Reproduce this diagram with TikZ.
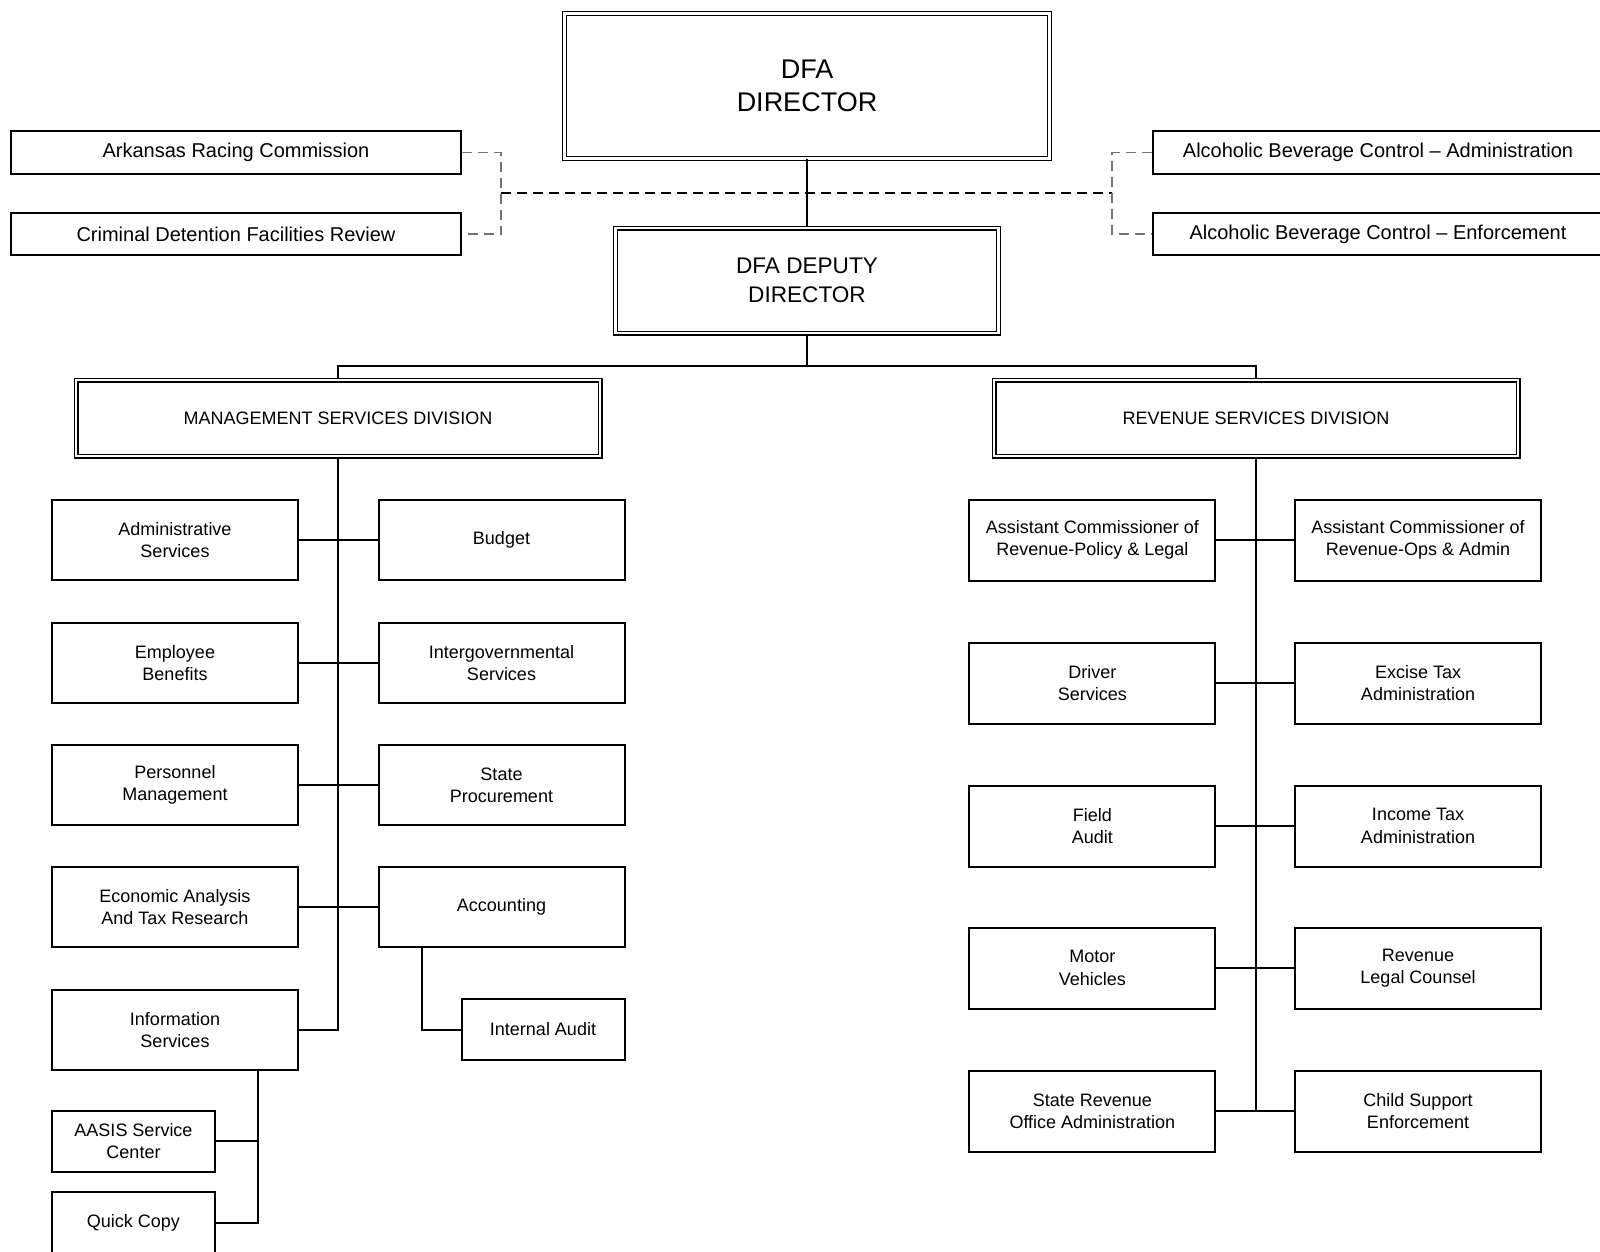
\documentclass[tikz,border=0pt]{standalone}
\usepackage{fontspec}
\setmainfont{Liberation Sans}
\usepackage{tikz}

\begin{document}
\begin{tikzpicture}[x=0.5pt,y=0.5pt,yscale=-1,xscale=1,
    unit/.style={draw,line width=1pt,fill=white,inner sep=1pt,align=center,font=\fontsize{9}{11.2}\selectfont,minimum width=123pt,minimum height=40pt},
    revunit/.style={unit,minimum height=40.5pt},
    smallunit/.style={unit,minimum width=81.5pt,minimum height=30.5pt},
    sidebox/.style={draw,line width=1pt,fill=white,minimum width=225pt,minimum height=21pt,inner sep=1pt,font=\fontsize{10}{12}\selectfont},
    headbox/.style={draw,line width=0.7pt,double,double distance=1.1pt,fill=white,align=center},
    divbox/.style={headbox,minimum width=262pt,minimum height=38pt,font=\fontsize{9}{11}\selectfont},
    link/.style={line width=1pt},
    mainlink/.style={line width=1pt,dash pattern={on 5pt off 3pt}},
    sidelink/.style={draw=black!55,line width=0.9pt,dash pattern={on 5pt off 3pt}}]
    % page size
    \fill[white] (0,0) rectangle (1600,1252);
    \useasboundingbox (0,0) rectangle (1600,1252);

    % Top boxes
    \node [headbox,minimum width=242.5pt,minimum height=72.5pt,font=\fontsize{13.5}{16.3}\selectfont] (dir) at (807,86) {DFA\\DIRECTOR};
    \node [headbox,minimum width=191.5pt,minimum height=52.5pt,font=\fontsize{11.3}{14.3}\selectfont] (dep) at (807,280.5) {DFA DEPUTY\\DIRECTOR};

    % Side boxes
    \node [sidebox] (arc) at (236,152.5) {Arkansas Racing Commission};
    \node [sidebox] (cdf) at (236,234) {Criminal Detention Facilities Review};
    \node [sidebox] (abca) at (1378,152.5) {Alcoholic Beverage Control – Administration};
    \node [sidebox] (abce) at (1378,234) {Alcoholic Beverage Control – Enforcement};

    % Divisions
    \node [divbox] (msd) at (338,418) {MANAGEMENT SERVICES DIVISION};
    \node [divbox] (rsd) at (1256,418) {REVENUE SERVICES DIVISION};

    % Management units
    \node [unit] (as) at (175,540) {Administrative\\Services};
    \node [unit] (bud) at (501.5,540) {Budget};
    \node [unit] (eb) at (175,663) {Employee\\Benefits};
    \node [unit] (igs) at (501.5,663) {Intergovernmental\\Services};
    \node [unit] (pm) at (175,785) {Personnel\\Management};
    \node [unit] (sp) at (501.5,785) {State\\Procurement};
    \node [unit] (eat) at (175,907) {Economic Analysis\\And Tax Research};
    \node [unit] (acc) at (501.5,907) {Accounting};
    \node [unit] (is) at (175,1030) {Information\\Services};
    \node [smallunit] (ia) at (543,1029.5) {Internal Audit};
    \node [smallunit] (aasis) at (133.5,1141) {AASIS Service\\Center};
    \node [smallunit] (qc) at (133.5,1222.5) {Quick Copy};

    % Revenue units
    \node [revunit] (acpl) at (1092.4,540) {Assistant Commissioner of\\Revenue-Policy \& Legal};
    \node [revunit] (acoa) at (1418,540) {Assistant Commissioner of\\Revenue-Ops \& Admin};
    \node [revunit] (ds) at (1092.4,683) {Driver\\Services};
    \node [revunit] (eta) at (1418,683) {Excise Tax\\Administration};
    \node [revunit] (fa) at (1092.4,826) {Field\\Audit};
    \node [revunit] (ita) at (1418,826) {Income Tax\\Administration};
    \node [revunit] (mv) at (1092.4,968) {Motor\\Vehicles};
    \node [revunit] (rlc) at (1418,968) {Revenue\\Legal Counsel};
    \node [revunit] (sro) at (1092.4,1111) {State Revenue\\Office Administration};
    \node [revunit] (cse) at (1418,1111) {Child Support\\Enforcement};

    % Director lines
    \coordinate (split) at (807,366);
    \draw [link] (dir) -- (dep);
    \draw [link] (dep) -- (split);
    \draw [link] (msd.north) |- (split) -| (rsd.north);

    % Dashed links
    \coordinate (dl) at (501,193);
    \coordinate (dr) at (1112,193);
    \draw [mainlink] (dl) -- (dr);
    \draw [sidelink] (arc.east) -| (dl) |- (cdf.east);
    \draw [sidelink] (abca.west) -| (dr) |- (abce.west);

    % Management lines
    \draw [link] (msd.south) |- (is.east);
    \foreach \a/\b in {as/bud,eb/igs,pm/sp,eat/acc}
        \draw [link] (\a.east) -- (\b.west);
    \draw [link] ([xshift=22pt]acc.south west) |- (ia.west);
    \draw [link] ([xshift=-20.5pt]is.south east) coordinate (isdrop) |- (qc.east);
    \draw [link] (aasis.east) -- (aasis.east -| isdrop);

    % Revenue lines
    \draw [link] (rsd.south) -- (rsd.south |- sro.east);
    \foreach \a/\b in {acpl/acoa,ds/eta,fa/ita,mv/rlc,sro/cse}
        \draw [link] (\a.east) -- (\b.west);

\end{tikzpicture}
\end{document}
